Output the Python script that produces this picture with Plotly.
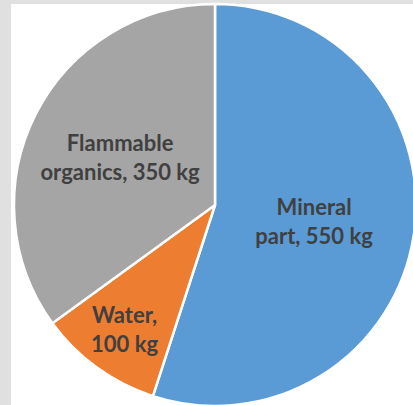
import plotly.graph_objects as go

# composition of 1 t of material
labels = ["Mineral part", "Water", "Flammable organics"]
values = [550, 100, 350]
label_text = ["Mineral<br>part, 550 kg", "Water,<br>100 kg", "Flammable<br>organics, 350 kg"]
colors = ["#5B9BD5", "#ED7D31", "#A5A5A5"]

W, H = 420, 410  # a bit bigger than the window so the pie gets cropped like the original

fig = go.Figure()
fig.add_trace(go.Pie(
    labels=labels,
    values=values,
    text=label_text,
    texttemplate="%{text}",
    textposition="inside",
    insidetextorientation="horizontal",
    textfont=dict(family="Lato", size=22, color="#404040", weight="bold"),
    marker=dict(colors=colors, line=dict(color="white", width=2.5)),
    sort=False,
    direction="clockwise",
    rotation=0,
    hole=0,
    showlegend=False,
    domain=dict(x=[14 / W, 416 / W], y=[4 / H, 406 / H]),
))

fig.update_layout(
    width=W,
    height=H,
    autosize=False,
    margin=dict(l=0, r=0, t=0, b=0),
    paper_bgcolor="white",
    shapes=[  # grey frame strips on the left and top
        dict(type="rect", xref="paper", yref="paper", x0=0, x1=11 / W, y0=0, y1=1,
             fillcolor="#E0E0E0", line_width=0, layer="below"),
        dict(type="rect", xref="paper", yref="paper", x0=0, x1=1, y0=(H - 4) / H, y1=1,
             fillcolor="#E0E0E0", line_width=0, layer="below"),
    ],
)

fig.write_html("out.html", config={"displayModeBar": False},
               post_script="document.body.style.margin='0';document.body.style.overflow='hidden';")
